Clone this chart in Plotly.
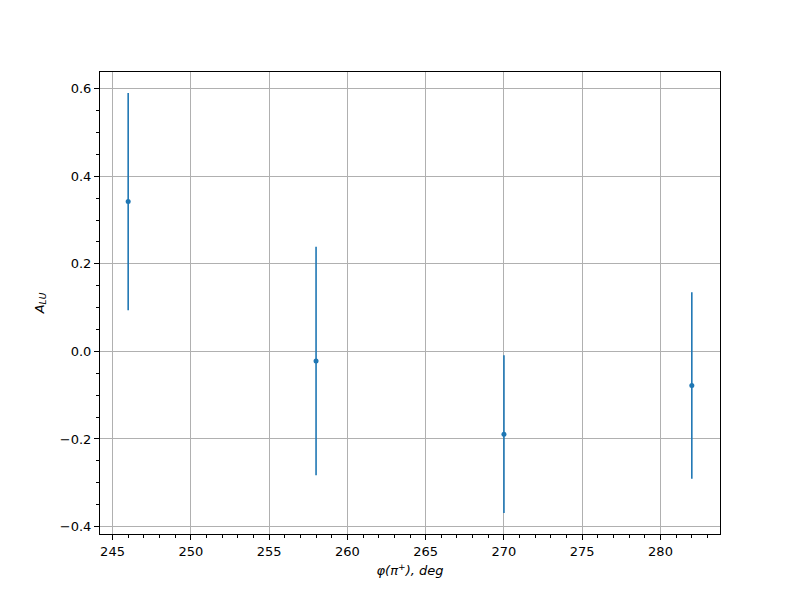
import plotly.graph_objects as go

phi_deg = [246, 258, 270, 282]
a_lu = [0.342, -0.022, -0.189, -0.078]
a_lu_err = [0.248, 0.261, 0.180, 0.213]

x_ticks = [245, 250, 255, 260, 265, 270, 275, 280]
y_ticks = [-0.4, -0.2, 0.0, 0.2, 0.4, 0.6]
y_tick_labels = ["\u22120.4", "\u22120.2", "0.0", "0.2", "0.4", "0.6"]

color = "#1f77b4"
font = "DejaVu Sans"

fig = go.Figure()
fig.add_trace(go.Scatter(
    x=phi_deg, y=a_lu, mode="markers",
    marker=dict(color=color, size=5),
    error_y=dict(type="data", array=a_lu_err, visible=True,
                 color=color, thickness=1.6, width=0),
    showlegend=False,
))

axis_common = dict(
    showline=True, linecolor="black", linewidth=1, mirror=True,
    ticks="outside", ticklen=5, tickwidth=1, tickcolor="black",
    showgrid=True, gridcolor="#b0b0b0", gridwidth=1,
    zeroline=False,
    tickfont=dict(family=font, size=13, color="black"),
)

fig.update_layout(
    width=800, height=600,
    margin=dict(l=92, r=88, t=64, b=74),
    paper_bgcolor="white", plot_bgcolor="white",
    font=dict(family=font, size=13, color="black"),
    xaxis=dict(
        range=[244.2, 283.8], tickvals=x_ticks,
        minor=dict(ticks="outside", ticklen=3, tickwidth=1, tickcolor="black", dtick=1, tick0=0, showgrid=False),
        title=dict(text="<i>\u03c6(\u03c0<sup>+</sup>), deg</i>", font=dict(family=font, size=13), standoff=8),
        **axis_common,
    ),
    yaxis=dict(
        range=[-0.417, 0.638], tickvals=y_ticks, ticktext=y_tick_labels,
        minor=dict(ticks="outside", ticklen=3, tickwidth=1, tickcolor="black", dtick=0.05, tick0=0, showgrid=False),
        title=dict(text="<i>A<sub>LU</sub></i>", font=dict(family=font, size=13), standoff=12),
        **axis_common,
    ),
)

fig.write_html("out.html")
